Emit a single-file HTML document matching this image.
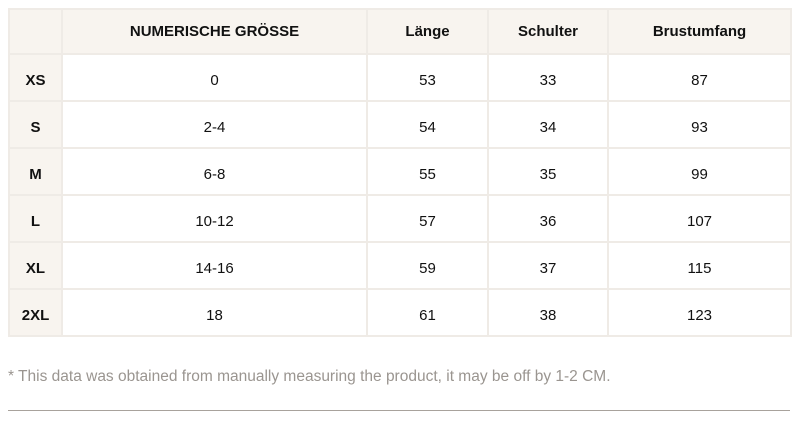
<!DOCTYPE html>
<html><head><meta charset="utf-8"><style>
body{margin:0;width:800px;height:422px;background:#fff;font-family:"Liberation Sans",Arial,sans-serif;position:relative;overflow:hidden}
table{position:absolute;left:8px;top:8px;border-collapse:collapse;table-layout:fixed;width:782px}
td{border:2px solid #efebe6;text-align:center;font-size:15px;color:#111;height:40px;padding:5px 0 0 0}
tr:first-child td{height:43px;padding:0;background:#f8f4ef;font-weight:bold}
td:first-child{background:#f8f4ef;font-weight:bold}
.note{position:absolute;left:8px;top:368px;font-size:15.5px;color:#9a9590}
.line{position:absolute;left:8px;top:410px;width:782px;height:1px;background:#a8a29c}
</style></head><body>
<table>
<colgroup><col style="width:53px"><col style="width:305px"><col style="width:121px"><col style="width:120px"><col style="width:183px"></colgroup>
<tr><td></td><td>NUMERISCHE GRÖSSE</td><td>Länge</td><td>Schulter</td><td>Brustumfang</td></tr>
<tr><td>XS</td><td>0</td><td>53</td><td>33</td><td>87</td></tr>
<tr><td>S</td><td>2-4</td><td>54</td><td>34</td><td>93</td></tr>
<tr><td>M</td><td>6-8</td><td>55</td><td>35</td><td>99</td></tr>
<tr><td>L</td><td>10-12</td><td>57</td><td>36</td><td>107</td></tr>
<tr><td>XL</td><td>14-16</td><td>59</td><td>37</td><td>115</td></tr>
<tr><td>2XL</td><td>18</td><td>61</td><td>38</td><td>123</td></tr>
</table>
<div class="note">* This data was obtained from manually measuring the product, it may be off by 1-2 CM.</div>
<div class="line"></div>
</body></html>
